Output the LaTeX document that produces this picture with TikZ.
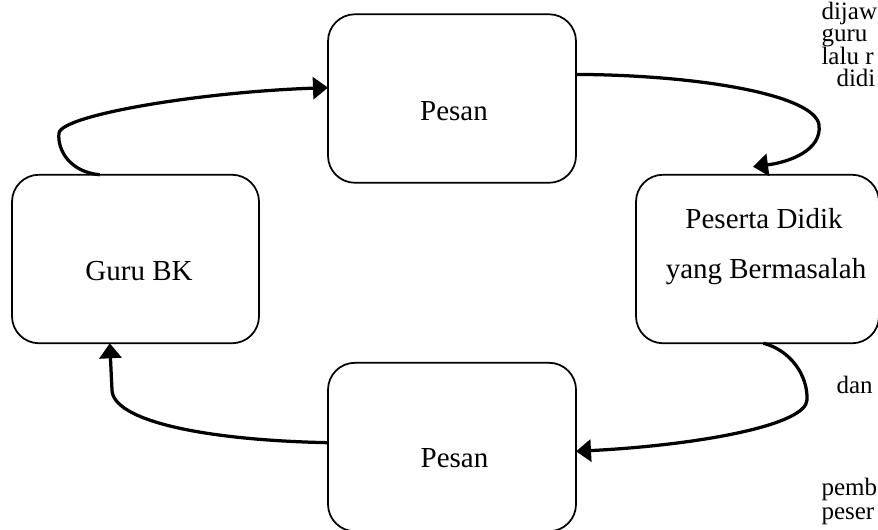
\documentclass[tikz,border=0pt]{standalone}
\usepackage{fontspec}
\setmainfont{Liberation Serif}
\usetikzlibrary{arrows.meta,positioning,calc}

\begin{document}
\begin{tikzpicture}[x = 0.4pt, y = -0.4pt,
        box/.style = {draw, rounded corners = 10.8pt, line width = 0.7pt, inner sep = 0pt, outer sep = 0pt, minimum height = 67.4pt},
        lbl/.style = {anchor = base, inner sep = 0pt, font = \fontsize{11.6}{14}\selectfont},
        side/.style = {anchor = base west, inner sep = 0pt, font = \fontsize{10}{11}\selectfont},
        flow/.style = {line width = 1.3pt, -{Triangle[length = 6pt, width = 8.8pt]}}]
        \useasboundingbox (0,0) rectangle (878,529);
        \clip (0,0) rectangle (878,529);

        \node [box, minimum width = 98.8pt] (guru) at (135.5,259) {};
        \node [box, minimum width = 97.2pt] (peserta) [right = 150.8pt of guru] {};
        \node [box, minimum width = 99.2pt] (msgtop) at (452,98.5) {};
        \node [box, minimum width = 99.2pt] (msgbot) [below = 72pt of msgtop] {};

        \node [lbl] (gurutext) at ($(guru.center)+(3.5,21)$) {Guru BK};
        \node [lbl] (pesertatexta) at ($(peserta.center)+(6.5,-31)$) {Peserta Didik};
        \node [lbl] (pesertatextb) at ($(peserta.center)+(8.5,19)$) {yang Bermasalah};
        \node [lbl] (msgtoptext) at ($(msgtop.center)+(2,21.5)$) {Pesan};
        \node [lbl] (msgbottext) at ($(msgbot.center)+(2.5,20.5)$) {Pesan};

        \node [side] (noteA) at (821,19) {dijaw};
        \node [side] (noteB) at (821,41.5) {guru};
        \node [side] (noteC) at (821,64) {lalu r};
        \node [side] (noteD) at (836,86.5) {didi};
        \node [side] (noteE) at (836,393) {dan};
        \node [side] (noteF) at (821,495) {pemb};
        \node [side] (noteG) at (821,519) {peser};

        \draw [flow] (guru.113) .. controls (70,172) and (57,150) .. (59,133)
            .. controls (62,115) and (200,92) .. (msgtop.175);
        \draw [flow] (msgtop.11) .. controls (700,75) and (815,95) .. (819,125)
            .. controls (822,150) and (790,162) .. ($(peserta.north west)+(117,-8)$);
        \draw [flow] (peserta.-86) .. controls (790,350) and (808,375) .. (807,400)
            .. controls (806,425) and (700,445) .. (msgbot.-2);
        \draw [flow] (msgbot.178) .. controls (200,440) and (113,420) .. (112,390)
            -- (guru.253);
\end{tikzpicture}
\end{document}
